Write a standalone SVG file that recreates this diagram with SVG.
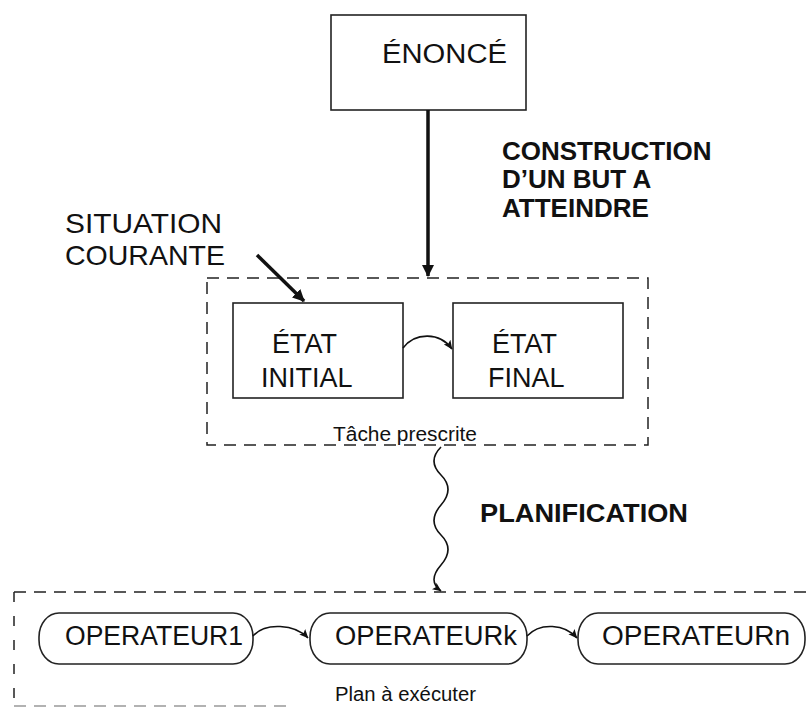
<svg xmlns="http://www.w3.org/2000/svg" width="812" height="710" viewBox="0 0 812 710">
<defs>
<style>
.t{font-family:"Liberation Sans",Arial,Helvetica,sans-serif;fill:#111;}
.big{font-size:27px;}
.bold{font-size:26px;font-weight:bold;}
.small{font-size:20px;}
.box{fill:#fff;stroke:#222;stroke-width:1.6;}
.dash{fill:none;stroke:#222;stroke-width:1.5;stroke-dasharray:12 8;}
.thick{fill:none;stroke:#111;stroke-width:3.5;}
.thin{fill:none;stroke:#111;stroke-width:1.6;}
</style>
<marker id="big" markerWidth="12" markerHeight="12" refX="11" refY="6" orient="auto" markerUnits="userSpaceOnUse" viewBox="0 0 12 12">
<path d="M0,0 L12,6 L0,12 z" fill="#111"/>
</marker>
<marker id="sm" markerWidth="9" markerHeight="9" refX="8.5" refY="4.5" orient="auto" markerUnits="userSpaceOnUse" viewBox="0 0 9 9">
<path d="M0,0.5 L9,4.5 L0,8.5 L2,4.5 z" fill="#111"/>
</marker>
</defs>
<rect width="812" height="710" fill="#fff"/>

<g id="enonce">
<rect class="box" x="331" y="15" width="195" height="95"/>
<text class="t big" x="382" y="63" textLength="125" lengthAdjust="spacingAndGlyphs">ÉNONCÉ</text>
</g>

<g id="label-construction">
<text class="t bold" x="502" y="160">CONSTRUCTION</text>
<text class="t bold" x="502" y="188">D’UN BUT A</text>
<text class="t bold" x="502" y="217">ATTEINDRE</text>
</g>

<g id="situation">
<text class="t" style="font-size:28px" x="65" y="233" textLength="157" lengthAdjust="spacingAndGlyphs">SITUATION</text>
<text class="t" style="font-size:28px" x="65" y="265" textLength="160" lengthAdjust="spacingAndGlyphs">COURANTE</text>
</g>

<g id="tache">
<rect class="dash" x="207" y="278" width="441" height="167"/>
<text class="t small" x="333" y="441" textLength="144" lengthAdjust="spacingAndGlyphs">Tâche prescrite</text>
</g>

<g id="etat-initial">
<rect class="box" x="233" y="303" width="170" height="95"/>
<text class="t big" x="272" y="353">ÉTAT</text>
<text class="t big" x="261" y="387">INITIAL</text>
</g>

<g id="etat-final">
<rect class="box" x="453" y="303" width="170" height="95"/>
<text class="t big" x="492" y="353">ÉTAT</text>
<text class="t big" x="488" y="387">FINAL</text>
</g>

<g id="label-planification">
<text class="t bold" x="480" y="522" textLength="208" lengthAdjust="spacingAndGlyphs">PLANIFICATION</text>
</g>

<g id="plan">
<path class="dash" d="M14,592 H812"/>
<path class="dash" d="M14,592 V706" style="stroke-dasharray:10 14"/>
<path class="dash" d="M14,706 H290" style="stroke:#999"/>
<text class="t small" x="335" y="701" textLength="141" lengthAdjust="spacingAndGlyphs">Plan à exécuter</text>
</g>

<g id="op1">
<rect class="box" x="39" y="613" width="214" height="51" rx="20" ry="24"/>
<text class="t big" x="65" y="645" textLength="178" lengthAdjust="spacingAndGlyphs">OPERATEUR1</text>
</g>
<g id="opk">
<rect class="box" x="310" y="613" width="217" height="51" rx="20" ry="24"/>
<text class="t big" x="335" y="645" textLength="182" lengthAdjust="spacingAndGlyphs">OPERATEURk</text>
</g>
<g id="opn">
<rect class="box" x="578" y="613" width="227" height="51" rx="20" ry="24"/>
<text class="t big" x="602" y="645" textLength="188" lengthAdjust="spacingAndGlyphs">OPERATEURn</text>
</g>

<g id="connectors">
<path class="thick" d="M428,110 V276" marker-end="url(#big)"/>
<path class="thick" d="M257,255 L304,301" marker-end="url(#big)"/>
<path class="thin" d="M403,348 C415,332 440,332 452,349" marker-end="url(#sm)"/>
<path class="thin" d="M441,447 Q427,461 441,475 T441,505 T441,535 T441,565 T441,591" marker-end="url(#sm)"/>
<path class="thin" d="M253,636 C265,622 295,624 308,638" marker-end="url(#sm)"/>
<path class="thin" d="M527,636 C540,622 565,624 577,638" marker-end="url(#sm)"/>
</g>
</svg>
